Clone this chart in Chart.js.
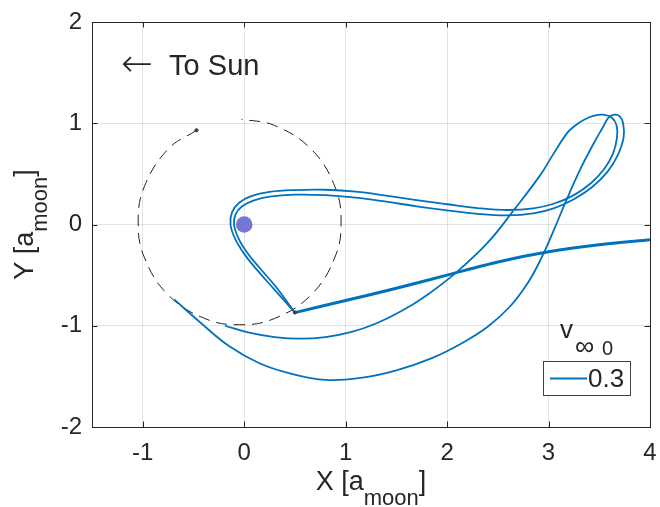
<!DOCTYPE html>
<html><head><meta charset="utf-8">
<script src="https://cdn.jsdelivr.net/npm/chart.js@4.4.1/dist/chart.umd.min.js"></script>
<style>html,body{margin:0;padding:0;background:#fff;}#wrap{width:660px;height:507px;}</style>
</head><body><div id="wrap"><canvas id="c" width="660" height="507"></canvas></div>
<script>
// ---- ticks ----
const xTicks = [-1, 0, 1, 2, 3, 4];
const yTicks = [-2, -1, 0, 1, 2];
const xTickLabels = ['-1', '0', '1', '2', '3', '4'];
const yTickLabels = ['-2', '-1', '0', '1', '2'];
const xRange = [-1.5, 4];
const yRange = [-2, 2];

// ---- legend / labels ----
const seriesLabel = '0.3';
const legendTitleMain = 'v';
const legendTitleSub1 = '\u221E';
const legendTitleSub2 = '0';
const xLabel = ['X [a', 'moon', ']'];
const yLabel = ['Y [a', 'moon', ']'];
const sunText = 'To Sun';
const sunArrow = '\u2190';

// ---- incoming branch (far right to the kink) ----
const approachX = [4.0, 3.5, 3.0, 2.5, 2.0, 1.5, 1.0, 0.5];
const approachY = [-0.15, -0.2, -0.27, -0.37, -0.5, -0.63, -0.75, -0.87];

// ---- trajectory 1: outer strand round the moon, inner right loop, shallow return ----
const traj1X = [0.5, 0.3, 0.12, 0.0, -0.09, -0.135, -0.12, -0.05, 0.07, 0.25, 0.5, 0.8, 1.1, 1.4, 1.7, 2.0, 2.3, 2.6, 2.85, 3.05, 3.25, 3.42, 3.55, 3.635, 3.675, 3.67, 3.625, 3.54, 3.45, 3.35, 3.26, 3.18, 3.05, 2.92, 2.66, 2.4, 2.1, 1.8, 1.55, 1.3, 1.05, 0.8, 0.55, 0.3, 0.05, -0.19];
const traj1Y = [-0.87, -0.645, -0.44, -0.29, -0.14, 0.0, 0.12, 0.215, 0.28, 0.322, 0.34, 0.343, 0.325, 0.285, 0.24, 0.2, 0.162, 0.143, 0.16, 0.205, 0.29, 0.41, 0.55, 0.7, 0.86, 0.98, 1.055, 1.085, 1.075, 1.035, 0.975, 0.9, 0.7, 0.49, 0.145, -0.18, -0.465, -0.698, -0.855, -0.978, -1.064, -1.113, -1.128, -1.113, -1.069, -1.0];

// ---- trajectory 2: inner strand round the moon, outer right loop, deep return ----
const traj2X = [0.5, 0.32, 0.145, 0.03, -0.055, -0.1, -0.085, -0.02, 0.09, 0.25, 0.5, 0.8, 1.1, 1.4, 1.7, 2.0, 2.3, 2.6, 2.85, 3.05, 3.25, 3.43, 3.58, 3.68, 3.74, 3.735, 3.7, 3.65, 3.595, 3.53, 3.45, 3.31, 3.18, 3.05, 2.93, 2.8, 2.62, 2.4, 2.15, 1.85, 1.5, 1.15, 0.8, 0.45, 0.15, -0.15, -0.43, -0.69];
const traj2Y = [-0.87, -0.625, -0.42, -0.28, -0.14, 0.0, 0.1, 0.18, 0.235, 0.275, 0.295, 0.29, 0.265, 0.225, 0.18, 0.14, 0.105, 0.09, 0.11, 0.16, 0.25, 0.37, 0.52, 0.68, 0.86, 1.0, 1.07, 1.085, 1.06, 0.95, 0.81, 0.54, 0.25, -0.06, -0.33, -0.57, -0.81, -1.01, -1.17, -1.32, -1.44, -1.515, -1.535, -1.47, -1.37, -1.2, -0.97, -0.74];

// ---- moon orbit (dashed) ----
const orbitX = [-0.47, -0.752, -0.985, -1.045, -0.985, -0.752, -0.387, -0.045, 0.297, 0.662, 0.895, 0.955, 0.895, 0.662, 0.297, -0.028];
const orbitY = [0.93, 0.743, 0.372, 0.025, -0.322, -0.693, -0.929, -0.99, -0.929, -0.693, -0.322, 0.025, 0.372, 0.743, 0.979, 1.04];

// ---- moon and position markers ----
const moonX = [0];
const moonY = [0];
const markX = [-0.47, 0.5];
const markY = [0.93, -0.87];

const pts = (xs, ys) => xs.map((x, i) => ({x: x, y: ys[i]}));
const BLUE = '#0072BD';
const FONT = "'Liberation Sans', Helvetica, Arial, sans-serif";
const INK = '#262626';

const overlay = {
  id: 'overlay',
  afterDraw(chart) {
    const ctx = chart.ctx, a = chart.chartArea;
    const xs = chart.scales.x, ys = chart.scales.y;
    ctx.save();
    ctx.strokeStyle = INK; ctx.lineWidth = 1;
    ctx.strokeRect(Math.round(a.left) + 0.5, Math.round(a.top) + 0.5, Math.round(a.right - a.left), Math.round(a.bottom - a.top));
    const tl = 5.5;
    ctx.beginPath();
    xTicks.forEach(v => {
      const p = Math.round(xs.getPixelForValue(v)) + 0.5;
      ctx.moveTo(p, a.bottom); ctx.lineTo(p, a.bottom - tl);
      ctx.moveTo(p, a.top); ctx.lineTo(p, a.top + tl);
    });
    yTicks.forEach(v => {
      const p = Math.round(ys.getPixelForValue(v)) + 0.5;
      ctx.moveTo(a.left, p); ctx.lineTo(a.left + tl, p);
      ctx.moveTo(a.right, p); ctx.lineTo(a.right - tl, p);
    });
    ctx.stroke();

    ctx.fillStyle = INK;
    ctx.textBaseline = 'alphabetic';
    const mainF = '27px ' + FONT, subF = '22px ' + FONT;
    function subLabel(parts, cx, base, drop) {
      ctx.font = mainF; const w0 = ctx.measureText(parts[0]).width; const w2 = ctx.measureText(parts[2]).width;
      ctx.font = subF; const w1 = ctx.measureText(parts[1]).width;
      let x = cx - (w0 + w1 + w2) / 2;
      ctx.textAlign = 'left';
      ctx.font = mainF; ctx.fillText(parts[0], x, base); x += w0;
      ctx.font = subF; ctx.fillText(parts[1], x, base + drop); x += w1;
      ctx.font = mainF; ctx.fillText(parts[2], x, base);
    }
    subLabel(xLabel, (a.left + a.right) / 2, 490, 15);
    ctx.save();
    ctx.translate(33, (a.top + a.bottom) / 2);
    ctx.rotate(-Math.PI / 2);
    subLabel(yLabel, 0, 0, 14);
    ctx.restore();

    ctx.textAlign = 'left';
    ctx.font = '29px ' + FONT;
    ctx.fillText(sunText, xs.getPixelForValue(-0.74), ys.getPixelForValue(1.48));
    ctx.font = "200 38px 'DejaVu Sans', sans-serif";
    ctx.textBaseline = 'middle';
    ctx.fillText(sunArrow, xs.getPixelForValue(-1.215), ys.getPixelForValue(1.56));
    ctx.textBaseline = 'alphabetic';

    const bx = a.right - 107, by = a.bottom - 66, bw = 87, bh = 34;
    ctx.fillStyle = '#fff';
    ctx.fillRect(bx, by, bw, bh);
    ctx.strokeStyle = '#404040'; ctx.lineWidth = 1;
    ctx.strokeRect(Math.round(bx) + 0.5, Math.round(by) + 0.5, bw, bh);
    ctx.strokeStyle = BLUE; ctx.lineWidth = 2;
    ctx.beginPath(); ctx.moveTo(bx + 7, by + 17.5); ctx.lineTo(bx + 44, by + 17.5); ctx.stroke();
    ctx.fillStyle = INK;
    ctx.font = '26px ' + FONT;
    ctx.fillText(seriesLabel, bx + 45, by + 26);
    ctx.fillText(legendTitleMain, bx + 17, by - 23);
    ctx.font = '27px ' + FONT;
    ctx.fillText(legendTitleSub1, bx + 32, by - 6);
    ctx.font = '20px ' + FONT;
    ctx.fillText(legendTitleSub2, bx + 59, by - 6);
    ctx.restore();
  }
};

new Chart(document.getElementById('c'), {
  type: 'scatter',
  data: {
    datasets: [
      {label: 'moon', data: pts(moonX, moonY), pointRadius: 8.3, pointBackgroundColor: '#7676d6', pointBorderWidth: 0, showLine: false},
      {label: 'marks', data: pts(markX, markY), pointRadius: 2, pointBackgroundColor: '#3a3a55', pointBorderWidth: 0, showLine: false},
      {label: seriesLabel, data: pts(approachX, approachY), showLine: true, borderColor: BLUE, borderWidth: 3, pointRadius: 0, tension: 0.3},
      {label: 't1', data: pts(traj1X, traj1Y), showLine: true, borderColor: BLUE, borderWidth: 1.8, pointRadius: 0, tension: 0.4},
      {label: 't2', data: pts(traj2X, traj2Y), showLine: true, borderColor: BLUE, borderWidth: 1.8, pointRadius: 0, tension: 0.4},
      {label: 'orbit', data: pts(orbitX, orbitY), showLine: true, borderColor: '#222', borderWidth: 1, borderDash: [11, 7], pointRadius: 0, tension: 0.4}
    ]
  },
  options: {
    responsive: false, animation: false, events: [],
    layout: {padding: {left: 0, right: 10, top: 22, bottom: 0}},
    plugins: {legend: {display: false}, tooltip: {enabled: false}},
    scales: {
      x: {
        type: 'linear', min: xRange[0], max: xRange[1],
        afterBuildTicks: s => { s.ticks = xTicks.map(v => ({value: v})); },
        afterFit: s => { s.height = 80; s.paddingLeft = 0; s.paddingRight = 0; },
        ticks: {callback: (v, i) => xTickLabels[i], color: INK, font: {size: 24, family: FONT}, padding: 12, maxRotation: 0, autoSkip: false},
        grid: {color: 'rgba(38,38,38,0.13)', drawTicks: false, lineWidth: 1},
        border: {display: false}
      },
      y: {
        type: 'linear', min: yRange[0], max: yRange[1],
        afterBuildTicks: s => { s.ticks = yTicks.map(v => ({value: v})); },
        afterFit: s => { s.width = 92; s.paddingTop = 0; s.paddingBottom = 0; },
        ticks: {callback: (v, i) => yTickLabels[i], color: INK, font: {size: 24, family: FONT}, padding: 10, autoSkip: false},
        grid: {color: 'rgba(38,38,38,0.13)', drawTicks: false, lineWidth: 1},
        border: {display: false}
      }
    }
  },
  plugins: [overlay]
});
</script></body></html>
